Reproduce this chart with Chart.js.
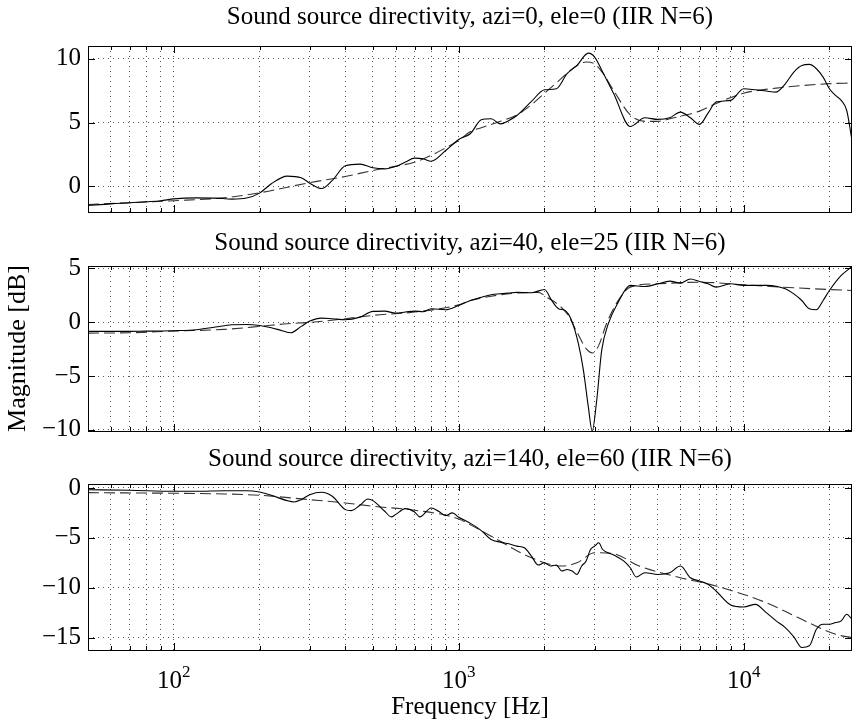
<!DOCTYPE html>
<html>
<head>
<meta charset="utf-8">
<script src="https://cdn.jsdelivr.net/npm/chart.js@4.4.0/dist/chart.umd.min.js"></script>
<style>
  html, body { margin: 0; padding: 0; background: #fff; }
  #wrap { position: relative; width: 854px; height: 726px; overflow: hidden; }
  canvas { position: absolute; left: 0; }
</style>
</head>
<body>
<div id="wrap">
  <canvas id="c1" width="854" height="232" style="top:0px"></canvas>
  <canvas id="c2" width="854" height="234" style="top:216px"></canvas>
  <canvas id="c3" width="854" height="290" style="top:436px"></canvas>
</div>
<script>
// grid / tick positions on the frequency axis (Hz)
const gridHz = [60, 70, 80, 90, 100, 200, 300, 400, 500, 600, 700, 800, 900,
  1000, 2000, 3000, 4000, 5000, 6000, 7000, 8000, 9000, 10000, 20000];
const decades = [100, 1000, 10000];

// azi=0, ele=0
const freq1 = [50,60,70,80,90,100,120,140,160,180,200,220,250,280,300,330,360,400,450,500,550,600,650,700,750,800,900,1000,1100,1200,1300,1400,1500,1600,1800,2000,2200,2400,2600,2850,3000,3200,3500,4000,4500,5000,5500,6000,6500,7000,7500,8000,9000,10000,11000,12000,13000,14000,15000,16000,17000,18000,19000,20000,21000,22000,23000,24000];
const mag1 = [-1.49,-1.36,-1.28,-1.2,-1.12,-0.97,-0.89,-0.91,-0.99,-0.91,-0.52,0.21,0.81,0.68,0.26,-0.16,0.47,1.62,1.75,1.46,1.38,1.57,1.91,2.22,2.17,1.98,2.82,3.68,4.15,5.22,5.3,4.9,5.17,5.56,6.66,7.57,7.65,8.83,9.48,10.44,10.13,8.96,7.26,4.7,5.38,5.25,5.38,5.82,5.38,4.86,5.74,6.61,6.74,7.65,7.57,7.47,7.39,8.04,8.96,9.48,9.56,9.22,8.56,7.65,7.13,6.74,5.95,3.6];
const fitHz1 = [50,100,150,200,300,400,500,600,700,800,900,1000,1100,1200,1400,1600,1800,2000,2200,2500,2800,3000,3200,3500,4000,4500,5000,5500,6000,7000,8000,10000,13000,16000,20000,24000];
const fit1 = [-1.41,-1.12,-0.89,-0.5,0.3,0.78,1.25,1.57,1.9,2.43,3.03,3.6,4.3,4.6,5.1,5.6,6.4,7.3,8.1,9.2,9.75,9.6,8.9,7.5,5.6,5.1,5.1,5.3,5.5,5.9,6.5,7.3,7.7,7.9,8.05,8.1];

// azi=40, ele=25
const freq2 = [50,60,70,80,90,100,120,140,160,180,200,220,240,257,280,300,330,360,400,450,500,550,600,650,700,750,800,900,1000,1100,1200,1300,1400,1500,1600,1800,2000,2120,2240,2360,2490,2630,2740,2850,2940,3050,3175,3350,3630,4000,4500,5000,5500,6000,6500,7000,7500,8000,9000,10000,11000,12000,13000,14000,15000,16000,17000,18000,19000,20000,22000,24000];
const mag2 = [-0.86,-0.86,-0.86,-0.84,-0.83,-0.8,-0.71,-0.46,-0.25,-0.22,-0.31,-0.52,-0.8,-0.99,-0.4,0.09,0.37,0.31,0.22,0.46,0.99,1.02,0.83,0.93,1.02,0.96,1.23,1.14,1.54,2.0,2.31,2.53,2.62,2.69,2.75,2.72,3.02,2.0,1.23,1.08,0.15,-2.0,-4.48,-7.87,-10.1,-7.25,-2.62,-0.15,1.85,3.4,3.3,3.55,3.8,3.61,4.0,3.77,3.55,3.24,3.55,3.4,3.4,3.4,3.33,3.09,2.62,2.0,1.23,1.14,2.0,2.93,4.32,5.15];
const fitHz2 = [50,70,100,150,200,250,300,400,500,700,1000,1100,1300,1600,1900,2050,2200,2400,2600,2800,2950,3100,3300,3600,4000,5000,7000,10000,15000,20000,24000];
const fit2 = [-1.02,-0.99,-0.83,-0.68,-0.4,-0.15,-0.03,0.31,0.62,0.93,1.6,2.0,2.4,2.69,2.75,2.25,1.76,0.77,-0.93,-2.47,-2.87,-2.16,-0.15,1.85,3.24,3.55,3.7,3.46,3.18,3.02,2.93];

// azi=140, ele=60
const freq3 = [50,70,100,120,150,180,200,220,250,265,280,300,330,360,400,420,450,480,500,550,580,600,650,700,730,800,850,900,950,1000,1100,1200,1300,1400,1500,1600,1700,1800,1900,2000,2100,2200,2300,2400,2500,2600,2700,2800,2900,3000,3100,3200,3500,3800,4000,4200,4500,5000,5500,6000,6500,7000,7500,8000,9000,10000,11000,12000,13000,14000,15000,16000,17000,18000,19000,20000,21000,22000,23000,24000];
const mag3 = [-0.17,-0.23,-0.33,-0.33,-0.27,-0.27,-0.4,-0.73,-1.27,-1.4,-1.17,-0.67,-0.43,-0.83,-2.17,-2.27,-1.73,-1.1,-1.27,-2.33,-2.9,-2.67,-2.07,-2.4,-2.9,-2.0,-2.33,-2.77,-2.5,-2.93,-3.55,-4.27,-5.17,-5.43,-5.6,-5.83,-6.0,-6.83,-7.73,-7.5,-7.83,-7.73,-8.33,-8.17,-8.33,-8.67,-7.83,-7.33,-6.17,-5.83,-5.5,-6.17,-6.73,-7.33,-8.0,-8.93,-8.5,-8.67,-8.5,-7.83,-9.0,-9.33,-9.67,-10.33,-11.73,-11.93,-11.67,-12.5,-13.33,-14.0,-14.93,-16.0,-15.83,-14.17,-13.67,-13.67,-13.5,-13.33,-12.67,-13.17];
const fitHz3 = [50,100,150,200,300,400,500,700,1000,1100,1300,1800,2300,2600,3000,3500,4300,6000,8000,12000,15500,21000,24000];
const fit3 = [-0.47,-0.53,-0.6,-0.73,-1.17,-1.5,-1.83,-2.23,-3.1,-3.7,-4.83,-7.0,-7.83,-7.5,-6.5,-6.6,-7.83,-9.0,-9.83,-11.5,-13.0,-14.67,-15.0];

const serif = 'Liberation Serif';
const pts = (xs, ys) => xs.map((f, i) => ({x: f, y: ys[i]}));
const minus = v => String(v).replace('-', '\u2212');

// MATLAB-ish box with inward tick marks
const boxPlugin = {
  id: 'box',
  afterDatasetsDraw(chart) {
    const {ctx, chartArea: a, scales: {x, y}} = chart;
    ctx.save();
    ctx.strokeStyle = '#000';
    ctx.lineWidth = 1;
    ctx.beginPath();
    x.ticks.forEach(t => {
      const px = Math.round(x.getPixelForValue(t.value)) + 0.5;
      const len = decades.includes(t.value) ? 7 : 4;
      ctx.moveTo(px, a.bottom); ctx.lineTo(px, a.bottom - len);
      ctx.moveTo(px, a.top); ctx.lineTo(px, a.top + len);
    });
    y.ticks.forEach(t => {
      const py = Math.round(y.getPixelForValue(t.value)) + 0.5;
      ctx.moveTo(a.left, py); ctx.lineTo(a.left + 7, py);
      ctx.moveTo(a.right, py); ctx.lineTo(a.right - 7, py);
    });
    ctx.stroke();
    ctx.strokeRect(Math.round(a.left) + 0.5, Math.round(a.top) + 0.5,
      Math.round(a.right - a.left) - 1, Math.round(a.bottom - a.top));
    ctx.restore();
  }
};

// 10^n labels under the bottom axes
const decadeLabels = {
  id: 'decadeLabels',
  afterDraw(chart) {
    const {ctx, chartArea: a, scales: {x}} = chart;
    ctx.save();
    ctx.fillStyle = '#000';
    ctx.textBaseline = 'alphabetic';
    decades.forEach(v => {
      const exp = String(Math.round(Math.log10(v)));
      ctx.font = '25px ' + serif;
      const wb = ctx.measureText('10').width;
      ctx.font = '17px ' + serif;
      const we = ctx.measureText(exp).width;
      const left = x.getPixelForValue(v) - (wb + we) / 2;
      ctx.font = '25px ' + serif;
      ctx.fillText('10', left, a.bottom + 38);
      ctx.font = '17px ' + serif;
      ctx.fillText(exp, left + wb, a.bottom + 27);
    });
    ctx.restore();
  }
};

function makeChart(id, o) {
  const plugins = [boxPlugin];
  if (o.bottom) plugins.push(decadeLabels);
  return new Chart(document.getElementById(id), {
    type: 'line',
    data: {
      datasets: [
        { data: pts(o.hz, o.mag), borderColor: '#000', borderWidth: 1.1, pointRadius: 0,
          cubicInterpolationMode: 'monotone' },
        { data: pts(o.fitHz, o.fit), borderColor: '#333', borderWidth: 1.1, borderDash: [11, 5],
          pointRadius: 0, cubicInterpolationMode: 'monotone' }
      ]
    },
    plugins: plugins,
    options: {
      responsive: false,
      animation: false,
      events: [],
      layout: { padding: { left: 0, right: 2, top: 0, bottom: o.padBottom } },
      plugins: {
        legend: { display: false },
        tooltip: { enabled: false },
        title: {
          display: true, text: o.title, fullSize: false, color: '#000',
          font: { family: serif, size: 25, weight: 'normal' },
          padding: o.titlePad
        }
      },
      scales: {
        x: {
          type: 'logarithmic', min: 50, max: 24000,
          afterBuildTicks: s => { s.ticks = gridHz.map(v => ({ value: v })); },
          afterFit: s => { s.height = o.bottom ? 76 : 0; },
          ticks: { display: false },
          grid: { color: '#555', lineWidth: 1, drawTicks: false },
          border: { display: false, dash: [1, 4] },
          title: {
            display: !!o.bottom, text: 'Frequency [Hz]', color: '#000',
            font: { family: serif, size: 25 }, padding: { top: 0, bottom: 4 }
          }
        },
        y: {
          min: o.yMin, max: o.yMax,
          afterBuildTicks: s => { s.ticks = o.yTicks.map(v => ({ value: v })); },
          afterFit: s => { s.width = 88; s.paddingTop = 0; s.paddingBottom = 0; },
          ticks: { color: '#000', padding: 7, font: { family: serif, size: 25 }, callback: v => minus(v) },
          grid: { color: '#555', lineWidth: 1, drawTicks: false },
          border: { display: false, dash: [1, 4] },
          title: {
            display: !!o.yLabel, text: o.yLabel || '', color: '#000',
            font: { family: serif, size: 26 }, padding: { top: 3, bottom: 0 }
          }
        }
      }
    }
  });
}

makeChart('c1', {
  title: 'Sound source directivity, azi=0, ele=0 (IIR N=6)',
  hz: freq1, mag: mag1, fitHz: fitHz1, fit: fit1,
  yMin: -2, yMax: 11, yTicks: [0, 5, 10],
  titlePad: { top: 2, bottom: 14 }, padBottom: 20
});
makeChart('c2', {
  title: 'Sound source directivity, azi=40, ele=25 (IIR N=6)',
  hz: freq2, mag: mag2, fitHz: fitHz2, fit: fit2,
  yMin: -10.1, yMax: 5.2, yTicks: [-10, -5, 0, 5], yLabel: 'Magnitude [dB]',
  titlePad: { top: 12, bottom: 8 }, padBottom: 19
});
makeChart('c3', {
  title: 'Sound source directivity, azi=140, ele=60 (IIR N=6)',
  hz: freq3, mag: mag3, fitHz: fitHz3, fit: fit3,
  yMin: -16.25, yMax: 0.4, yTicks: [-15, -10, -5, 0],
  titlePad: { top: 8, bottom: 10 }, padBottom: 0, bottom: true
});
</script>
</body>
</html>
